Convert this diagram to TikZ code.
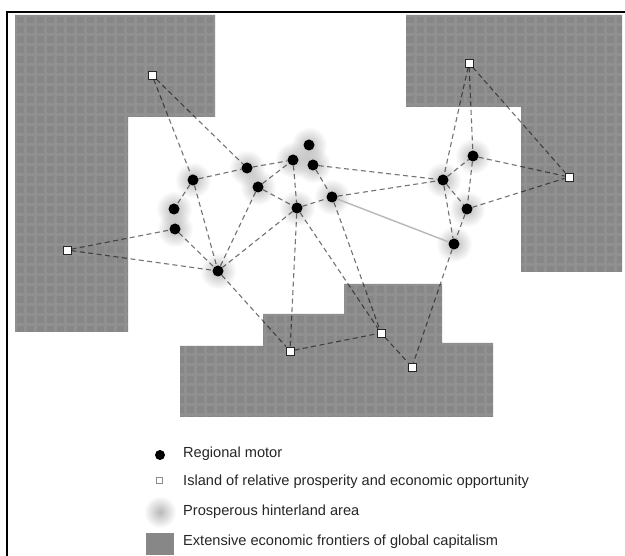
\documentclass[tikz,border=0pt]{standalone}
\usepackage{fontspec}
\setmainfont{Liberation Sans}
\usetikzlibrary{fadings,backgrounds}
\tikzfading[name=halofade, inner color=transparent!15, outer color=transparent!100]

\begin{document}
\begin{tikzpicture}[x=1pt,y=-1pt,
  motor/.style={circle, fill=black, inner sep=0pt, minimum size=11pt},
  island/.style={rectangle, draw=black!85, fill=white, line width=0.8pt, inner sep=0pt, minimum size=8pt},
  link/.style={black, opacity=0.55, dash pattern=on 5pt off 3.5pt, line width=1.1pt},
  solidlink/.style={black!28, line width=1.4pt},
  frontier/.style={fill=black!47, path picture={
      \draw[white, opacity=0.08, line width=3pt, shift={(5pt,5pt)}]
        (path picture bounding box.south west) grid[step=10pt] (path picture bounding box.north east);}},
  halo/.style={fill=black!32, path fading=halofade},
  legendtext/.style={anchor=west, inner sep=0pt, text=black!85,
      font=\fontsize{14.6}{17}\selectfont}]

\useasboundingbox (0,0) rectangle (625,556);

% frame
\draw[line width=1.3pt] (7,556) -- (7,12) -- (625,12);

% regional motors
\node[motor] (m1)  at (193,180) {};
\node[motor] (m2)  at (247,168) {};
\node[motor] (m3)  at (258,187) {};
\node[motor] (m4)  at (293,160) {};
\node[motor] (m5)  at (309,145) {};
\node[motor] (m6)  at (313,165) {};
\node[motor] (m7)  at (297,208) {};
\node[motor] (m8)  at (174,209) {};
\node[motor] (m9)  at (175,229) {};
\node[motor] (m10) at (218,271) {};
\node[motor] (m11) at (332,197) {};
\node[motor] (m12) at (443,180) {};
\node[motor] (m13) at (473,156) {};
\node[motor] (m14) at (467,209) {};
\node[motor] (m15) at (454,244) {};

% islands
\node[island] (i1) at (152,75)  {};
\node[island] (i2) at (67,250)  {};
\node[island] (i3) at (469,63)  {};
\node[island] (i4) at (569,177) {};
\node[island] (i5) at (290,351) {};
\node[island] (i6) at (381,333) {};
\node[island] (i7) at (412,367) {};

% paper, frontiers and hinterlands
\begin{pgfonlayer}{background}
  \fill[white] (0,0) rectangle (625,556);
  \fill[frontier] (15,15) -- (215,15) -- (215,117) -- (128,117) -- (128,332) -- (15,332) -- cycle;
  \fill[frontier] (406,15) -- (622,15) -- (622,272) -- (521,272) -- (521,107) -- (406,107) -- cycle;
  \fill[frontier] (180,346) -- (263,346) -- (263,314) -- (344,314) -- (344,284) -- (442,284)
                  -- (442,343) -- (493,343) -- (493,417) -- (180,417) -- cycle;
  \foreach \n in {m1,m2,m3,m4,m5,m6,m7,m8,m9,m10,m11,m12,m13,m14,m15}
    \fill[halo] (\n) circle (18pt);
\end{pgfonlayer}

% links
\foreach \a/\b in {i1/m1, i1/m2, m1/m2, m2/m4, m3/m4, m3/m7, m4/m7, m7/i5,
                   m1/m8, m1/m10, m9/m10, m3/m10, m7/m10, i2/m9, i2/m10,
                   m7/m11, m6/m11, m6/m12, m11/m12, m7/i6, m11/i6, m10/i5,
                   i5/i6, i6/i7, m15/i7, i3/m12, i3/m13, i3/i4, m13/i4, m14/i4,
                   m12/m13, m13/m14, m12/m14, m12/m15, m14/m15}
  \draw[link] (\a) -- (\b);
\draw[solidlink] (m11) -- (m15);

% legend
\node[motor, minimum size=10pt] (lm) at (160,455) {};
\node[legendtext] (lmt) at (183,454) {Regional motor};
\node[island, draw=black!45, line width=0.6pt, minimum size=6pt] (li) at (159,480) {};
\node[legendtext] (lit) at (183,482) {Island of relative prosperity and economic opportunity};
\coordinate (lh) at (160,512);
\fill[halo] (lh) circle (16pt);
\node[legendtext] (lht) at (183,512) {Prosperous hinterland area};
\node[fill=black!47, minimum width=28pt, minimum height=22pt, inner sep=0pt] (lf) at (160,544) {};
\node[legendtext] (lft) at (183,542) {Extensive economic frontiers of global capitalism};
\end{tikzpicture}
\end{document}
